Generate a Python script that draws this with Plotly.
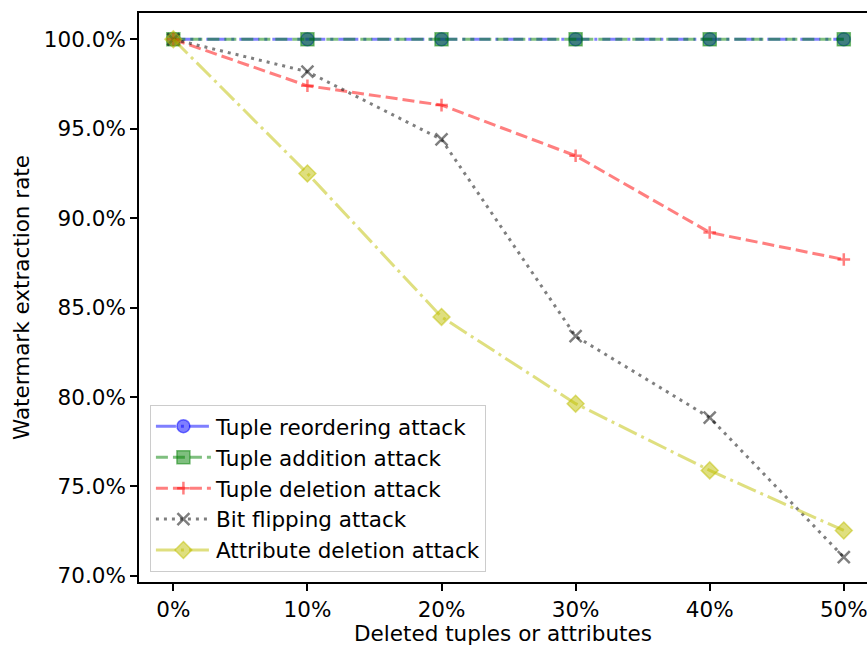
import plotly.graph_objects as go

x_vals = [0, 10, 20, 30, 40, 50]
x_ticks = ["0%", "10%", "20%", "30%", "40%", "50%"]
reorder = [100, 100, 100, 100, 100, 100]
addition = [100, 100, 100, 100, 100, 100]
deletion = [100, 97.40, 96.32, 93.49, 89.20, 87.69]
bitflip = [100, 98.19, 94.40, 83.40, 78.85, 71.05]
attrdel = [100, 92.50, 84.48, 79.63, 75.90, 72.54]
y_vals = [70, 75, 80, 85, 90, 95, 100]
y_ticks = ["70.0%", "75.0%", "80.0%", "85.0%", "90.0%", "95.0%", "100.0%"]

series = [
    ("Tuple reordering attack", reorder, "rgba(0,0,255,0.5)", "20px,5px,3px,5px", "circle", 13),
    ("Tuple addition attack", addition, "rgba(0,128,0,0.5)", "12px,5px", "square", 13),
    ("Tuple deletion attack", deletion, "rgba(255,0,0,0.5)", "12px,5px", "cross-thin", 9),
    ("Bit flipping attack", bitflip, "rgba(0,0,0,0.5)", "3px,5px", "x-thin", 12),
    ("Attribute deletion attack", attrdel, "rgba(191,191,0,0.5)", "20px,5px,3px,5px", "diamond", 13),
]

fig = go.Figure()
for i, (name, ys, col, dash, sym, sz) in enumerate(series):
    thin = sym.endswith("thin")
    fig.add_trace(go.Scatter(
        x=x_vals, y=ys, name=name, mode="lines+markers",
        legendgroup=f"g{i}",
        line=dict(color=col, width=3, dash=dash),
        marker=dict(symbol=sym, size=sz, color=col,
                    line=dict(color=col, width=2.5 if thin else 1.5)),
    ))

axis_font = dict(family="DejaVu Sans", size=21.5, color="black")
fig.update_layout(
    width=867, height=646,
    margin=dict(l=139, r=0, t=13, b=64),
    paper_bgcolor="white", plot_bgcolor="white",
    font=axis_font,
    showlegend=True,
    legend=dict(x=0.015, y=0.018, xanchor="left", yanchor="bottom",
                bgcolor="rgba(255,255,255,0.8)", bordercolor="rgb(204,204,204)",
                borderwidth=1, font=axis_font, tracegroupgap=0, itemwidth=55),
)
fig.update_xaxes(
    range=[-2.56, 51.73], tickvals=x_vals, ticktext=x_ticks, ticklabeloverflow="allow",
    showgrid=False, zeroline=False, showline=True, linecolor="black", linewidth=1.7,
    mirror=True, ticks="outside", ticklen=7, tickwidth=1.6, tickcolor="black",
    title=dict(text="Deleted tuples or attributes", font=axis_font, standoff=4),
)
fig.update_yaxes(
    range=[69.66, 101.47], tickvals=y_vals, ticktext=y_ticks,
    showgrid=False, zeroline=False, showline=True, linecolor="black", linewidth=1.7,
    mirror=False, ticks="outside", ticklen=7, tickwidth=1.6, tickcolor="black",
    title=dict(text="Watermark extraction rate", font=axis_font, standoff=8),
)
fig.write_html("out.html")
